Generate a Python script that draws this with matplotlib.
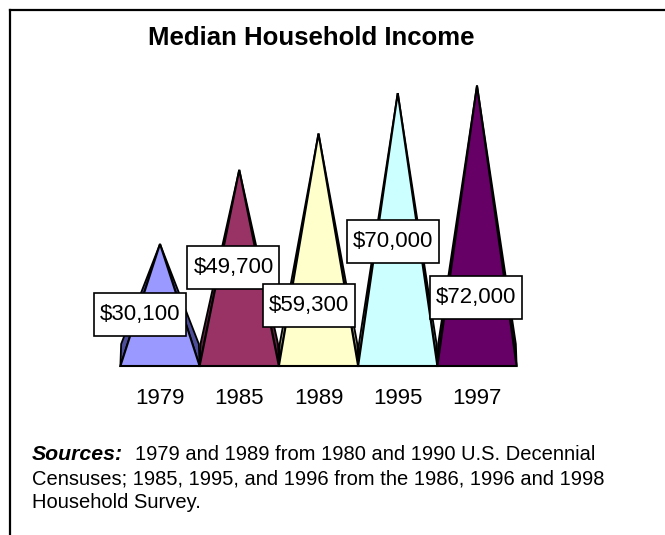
import numpy as np
import matplotlib
matplotlib.use("Agg")
import matplotlib.pyplot as plt
from matplotlib.patches import Polygon, Rectangle
from matplotlib.lines import Line2D

plt.rcParams['font.family'] = ['Liberation Sans', 'DejaVu Sans']

years = ['1979', '1985', '1989', '1995', '1997']
incomes = [30100, 49700, 59300, 70000, 72000]
front_colors = ['#9999FF', '#993366', '#FFFFCC', '#CCFFFF', '#660066']
side_colors = ['#4D4D99', '#5C1F3D', '#99997A', '#6B9999', '#330033']

# centre of each value box (category units, dollars)
label_x = [-0.25, 0.927, 1.88, 2.946, 3.987]
label_y = [13490, 26180, 16130, 32930, 17990]

W, H = 665, 535
fig = plt.figure(figsize=(W / 100, H / 100), dpi=100)


def fx(px):
    return px / W


def fy(py):
    return 1 - py / H


# plot area: front baseline at y=366 px, categories 79.25 px apart
base_px = 366
ymax = 85000
px_per_dollar = 0.003781
step_px = 79.25
left_px = 160 - 0.5 * step_px
right_px = left_px + 5 * step_px
top_px = base_px - ymax * px_per_dollar
ax = fig.add_axes([fx(left_px), fy(base_px), (right_px - left_px) / W,
                   (base_px - top_px) / H])
ax.set_xlim(-0.5, 4.5)
ax.set_ylim(0, ymax)
ax.axis('off')

half = 0.5
depth_y = 22 / px_per_dollar     # back corners of the square base
apex_lift = 8.2 / px_per_dollar  # apex sits above the base centre
for i, (val, fc, sc) in enumerate(zip(incomes, front_colors, side_colors)):
    x0, x1 = i - half, i + half
    apex = (i, val + apex_lift)
    left_face = Polygon([(x0, 0), (x0 + 0.01, depth_y), apex], closed=True,
                        facecolor=sc, edgecolor='black', lw=1.3, zorder=2 + i,
                        clip_on=False)
    right_face = Polygon([(x1, 0), (x1 - 0.01, depth_y), apex], closed=True,
                         facecolor=sc, edgecolor='black', lw=1.3, zorder=2 + i,
                         clip_on=False)
    front = Polygon([(x0, 0), (x1, 0), apex], closed=True,
                    facecolor=fc, edgecolor='black', lw=1.5, zorder=2.5 + i,
                    clip_on=False)
    ax.add_patch(left_face)
    ax.add_patch(right_face)
    ax.add_patch(front)

box_w = 92 / step_px
box_h = 43 / px_per_dollar
for i, val in enumerate(incomes):
    ax.add_patch(Rectangle((label_x[i] - box_w / 2, label_y[i] - box_h / 2),
                           box_w, box_h, facecolor='white', edgecolor='black',
                           lw=1.2, zorder=20, clip_on=False))
    ax.text(label_x[i], label_y[i], f'${val:,}', ha='center', va='center',
            fontsize=16, zorder=21)

for i, yr in enumerate(years):
    ax.text(i, -33 / px_per_dollar, yr, ha='center', va='center', fontsize=16)

fig.text(fx(311), fy(38), 'Median Household Income', ha='center', va='center',
         fontsize=18.5, fontweight='bold')

fig.text(fx(32), fy(455), 'Sources:', ha='left', va='center', fontsize=15.3,
         fontweight='bold', fontstyle='italic')
fig.text(fx(135), fy(455), '1979 and 1989 from 1980 and 1990 U.S. Decennial',
         ha='left', va='center', fontsize=14.5)
fig.text(fx(32), fy(479), 'Censuses; 1985, 1995, and 1996 from the 1986, 1996 and 1998',
         ha='left', va='center', fontsize=14.5)
fig.text(fx(32), fy(503), 'Household Survey.', ha='left', va='center', fontsize=14.5)

# outer frame
fig.add_artist(Line2D([fx(10), fx(10)], [fy(10), 0], color='black', lw=1.6))
fig.add_artist(Line2D([fx(10), 1], [fy(10), fy(10)], color='black', lw=1.6))

fig.savefig('out.png', dpi=100)
